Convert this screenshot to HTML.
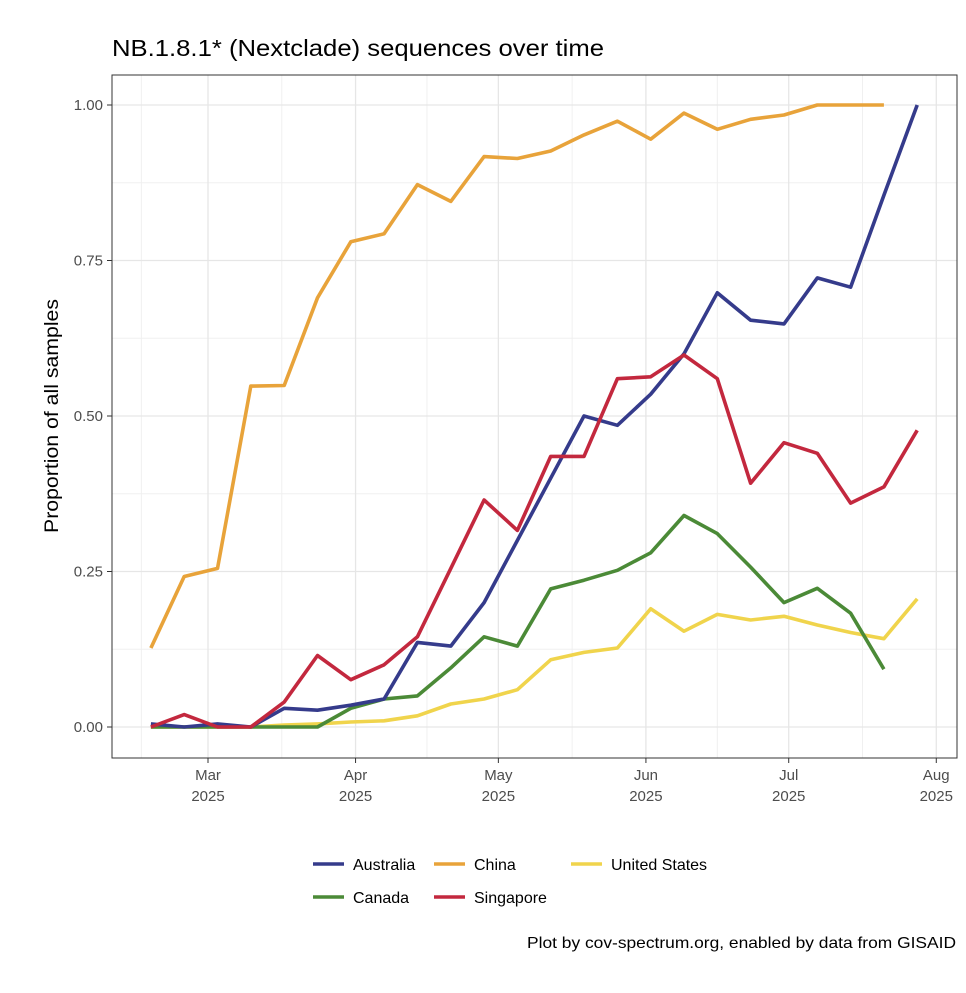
<!DOCTYPE html>
<html><head><meta charset="utf-8"><style>
body{margin:0;background:#fff;font-family:"Liberation Sans",sans-serif}
svg text{font-family:"Liberation Sans",sans-serif}
</style></head><body>
<svg id="chart" width="966" height="988" xmlns="http://www.w3.org/2000/svg">
<rect width="966" height="988" fill="#fff"/>
<text x="112" y="56" font-size="23" textLength="492" lengthAdjust="spacingAndGlyphs" fill="#000">NB.1.8.1* (Nextclade) sequences over time</text>
<g id="grid"></g>
<g id="series"></g>
<rect x="112" y="75" width="845" height="683" fill="none" stroke="#333" stroke-width="1"/>
<g id="axes"></g>
<text transform="translate(58,416) rotate(-90)" text-anchor="middle" font-size="19" textLength="234" lengthAdjust="spacingAndGlyphs" fill="#000">Proportion of all samples</text>
<g id="legend"></g>
<text x="527" y="948" font-size="16" textLength="429" lengthAdjust="spacingAndGlyphs" fill="#000">Plot by cov-spectrum.org, enabled by data from GISAID</text>
</svg>
<script>
const yTicks=[0,0.25,0.5,0.75,1.0];
const yTickLabels=["0.00","0.25","0.50","0.75","1.00"];
const monthDays=[-28,0,31,61,92,122,153];
const monthLabels=["Feb","Mar","Apr","May","Jun","Jul","Aug"];
const startDay=-12;
const seriesNames=["Australia","China","Singapore","Canada","United States"];
const australia=[0.005,0.0,0.005,0.0,0.03,0.027,0.035,0.045,0.136,0.13,0.2,0.3,0.4,0.5,0.485,0.535,0.6,0.698,0.654,0.648,0.722,0.707,0.855,1.0];
const china=[0.127,0.242,0.255,0.548,0.549,0.69,0.78,0.793,0.872,0.845,0.917,0.914,0.926,0.952,0.974,0.945,0.987,0.961,0.977,0.984,1.0,1.0,1.0];
const singapore=[0,0.02,0,0,0.04,0.115,0.076,0.1,0.145,0.255,0.365,0.316,0.435,0.435,0.56,0.563,0.598,0.56,0.392,0.457,0.44,0.36,0.386,0.477];
const canada=[0,0,0,0,0,0,0.03,0.045,0.05,0.095,0.145,0.13,0.222,0.236,0.252,0.28,0.34,0.311,0.257,0.2,0.223,0.183,0.093];
const unitedStates=[0,0,0,0,0.003,0.005,0.008,0.01,0.018,0.037,0.045,0.06,0.108,0.12,0.127,0.19,0.154,0.181,0.172,0.178,0.164,0.152,0.142,0.206];
const colors={"Australia":"#353b8b","China":"#e8a33a","Singapore":"#c3283e","Canada":"#4b8a37","United States":"#f0d44c"};
const NS="http://www.w3.org/2000/svg";
const x=d=>208+d*4.76;
const y=v=>727-v*622;
function mk(tag,attrs,parent){const e=document.createElementNS(NS,tag);for(const k in attrs)e.setAttribute(k,attrs[k]);parent.appendChild(e);return e;}
const grid=document.getElementById('grid'),axes=document.getElementById('axes'),ser=document.getElementById('series'),leg=document.getElementById('legend');
for(let i=0;i<yTicks.length-1;i++){const v=(yTicks[i]+yTicks[i+1])/2;const l=mk('line',{x1:112,x2:957,y1:y(v),y2:y(v),stroke:'#f0f0f0','stroke-width':1},grid);

}
for(let i=0;i<monthDays.length-1;i++){const d=(monthDays[i]+monthDays[i+1])/2;const xx=x(d);if(xx<112||xx>957)continue;const l=mk('line',{x1:xx,x2:xx,y1:75,y2:758,stroke:'#f0f0f0','stroke-width':1},grid);

}
yTicks.forEach((v,i)=>{const l=mk('line',{x1:112,x2:957,y1:y(v),y2:y(v),stroke:'#e6e6e6','stroke-width':1.3},grid);


const t=mk('line',{x1:107,x2:112,y1:y(v),y2:y(v),stroke:'#333'},axes);


const tx=mk('text',{x:103,y:y(v)+5,'text-anchor':'end','font-size':15,fill:'#4d4d4d'},axes);tx.textContent=yTickLabels[i];

});
monthDays.forEach((d,i)=>{const xx=x(d);if(xx<112||xx>957)return;const l=mk('line',{x1:xx,x2:xx,y1:75,y2:758,stroke:'#e6e6e6','stroke-width':1.3},grid);


const t=mk('line',{x1:xx,x2:xx,y1:758,y2:763,stroke:'#333'},axes);


const tx=mk('text',{x:xx,y:780,'text-anchor':'middle','font-size':15,fill:'#4d4d4d'},axes);tx.textContent=monthLabels[i];


const ty=mk('text',{x:xx,y:801,'text-anchor':'middle','font-size':15,fill:'#4d4d4d'},axes);ty.textContent='2025';

});
const data={"Australia":australia,"China":china,"Singapore":singapore,"Canada":canada,"United States":unitedStates};
["China","United States","Canada","Australia","Singapore"].forEach(n=>{const arr=data[n];
const pts=arr.map((v,i)=>x(startDay+7*i).toFixed(1)+','+y(v).toFixed(1)).join(' ');
const p=mk('polyline',{points:pts,fill:'none',stroke:colors[n],'stroke-width':3.6,'stroke-linejoin':'round'},ser);

});
const legPos=[["Australia",313,864],["China",434,864],["United States",571,864],["Canada",313,897],["Singapore",434,897]];
legPos.forEach(([n,lx,ly])=>{const g=mk('g',{},leg);


mk('line',{x1:lx,x2:lx+31,y1:ly,y2:ly,stroke:colors[n],'stroke-width':3.6},g);
const t=mk('text',{x:lx+40,y:ly+6,'font-size':16,fill:'#000'},g);t.textContent=n;});
</script>
</body></html>
